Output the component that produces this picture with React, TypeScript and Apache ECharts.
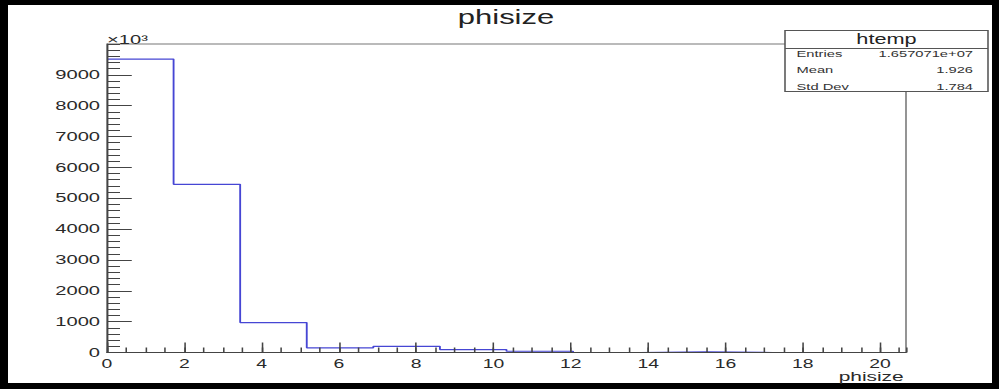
import React, { useEffect, useRef } from "react";
import * as echarts from "echarts";

// ---- data (ROOT histogram "htemp" of phisize) ----
const xMin = 0;
const xMax = 20.67;
const nBins = 12;
// bin contents in units of 10^3 entries
const binContentsK = [9510, 5450, 970, 150, 200, 95, 40, 0, 20, 0, 0, 0];
const xTickValues = [0, 2, 4, 6, 8, 10, 12, 14, 16, 18, 20];
const yMax = 10000;
const statsTitle = "htemp";
const statsLabels = ["Entries", "Mean", "Std Dev"];
const statsValues = ["1.657071e+07", "1.926", "1.784"];
const chartTitle = "phisize";
const xTitle = "phisize";
const yExponent = "×10³";

// the reference picture is horizontally stretched; draw at narrow width and stretch
const FULL_W = 999;
const FULL_H = 389;
const INNER_W = 645;
const S = FULL_W / INNER_W;
const FONT = "Liberation Sans, Arial, Helvetica, sans-serif";

export default function App() {
  const ref = useRef<HTMLDivElement>(null);
  useEffect(() => {
    if (!ref.current) return;
    const chart = echarts.init(ref.current, undefined, { renderer: "svg" });
    const bw = (xMax - xMin) / nBins;
    const pts: number[][] = binContentsK.map((v, i) => [xMin + i * bw, v]);
    pts.push([xMax, binContentsK[nBins - 1]]);

    const axisColor = "#444";
    const labelColor = "#2a2a2a";
    const bx = 785 / S;
    const bw2 = 988 / S - bx;
    const by = 30.5;
    const bh = 61;
    // small stats texts: draw at double size and scale down by half
    const SMALL = 19;
    const k = 0.5;

    chart.setOption({
      animation: false,
      backgroundColor: "#000",
      title: {
        text: chartTitle,
        left: 506 / S,
        top: 7,
        textAlign: "center",
        padding: 0,
        textStyle: { fontFamily: FONT, fontSize: 20, fontWeight: "normal", color: "#222" },
      },
      grid: {
        left: 107 / S,
        right: INNER_W - 906 / S,
        top: 44,
        bottom: FULL_H - 352.5,
        show: true,
        borderColor: "#777",
        borderWidth: 1,
        backgroundColor: "transparent",
      },
      xAxis: [
        {
          type: "value",
          min: xMin,
          max: xMax,
          interval: 2,
          position: "bottom",
          z: 5,
          axisLine: { show: true, onZero: false, lineStyle: { color: axisColor, width: 1 } },
          axisTick: { show: true, inside: true, length: 10, lineStyle: { color: axisColor } },
          axisLabel: {
            margin: 4,
            fontSize: 12.5,
            color: labelColor,
            fontFamily: FONT,
            showMaxLabel: false,
            formatter: (v: number) => (xTickValues.includes(v) ? String(v) : ""),
          },
          splitLine: { show: false },
          name: xTitle,
          nameLocation: "end",
          nameGap: -1.5,
          nameMoveOverlap: false,
          nameTextStyle: {
            fontFamily: FONT,
            fontSize: 13.5,
            color: labelColor,
            align: "right",
            verticalAlign: "top",
            padding: [16.5, 0, 0, 0],
          },
        },
        {
          type: "value",
          min: xMin,
          max: xMax,
          interval: 0.5,
          position: "bottom",
          z: 5,
          axisLine: { show: false, onZero: false },
          axisTick: { show: true, inside: true, length: 5, lineStyle: { color: axisColor } },
          axisLabel: { show: false },
          splitLine: { show: false },
        },
      ],
      yAxis: [
        {
          type: "value",
          min: 0,
          max: yMax,
          interval: 1000,
          position: "left",
          z: 5,
          axisLine: { show: true, onZero: false, lineStyle: { color: axisColor, width: 1 } },
          axisTick: { show: true, inside: true, length: 16, lineStyle: { color: axisColor } },
          axisLabel: {
            margin: 4.5,
            fontSize: 13,
            color: labelColor,
            fontFamily: FONT,
            showMaxLabel: false,
            formatter: (v: number) => String(v),
          },
          splitLine: { show: false },
          name: yExponent,
          nameLocation: "end",
          nameGap: -2.5,
          nameMoveOverlap: false,
          nameTextStyle: {
            fontFamily: FONT,
            fontSize: 13,
            color: labelColor,
            align: "left",
            verticalAlign: "bottom",
          },
        },
        {
          type: "value",
          min: 0,
          max: yMax,
          interval: 200,
          position: "left",
          z: 5,
          axisLine: { show: false, onZero: false },
          axisTick: { show: true, inside: true, length: 8.4, lineStyle: { color: axisColor } },
          axisLabel: { show: false },
          splitLine: { show: false },
        },
      ],
      series: [
        {
          type: "line",
          step: "end",
          data: pts,
          xAxisIndex: 0,
          yAxisIndex: 0,
          symbol: "none",
          silent: true,
          lineStyle: { color: "#4646d4", width: 1.2 },
        },
      ],
      graphic: [
        {
          type: "rect",
          z: -10,
          shape: { x: 8 / S, y: 5, width: (992 - 8) / S, height: 378 },
          style: { fill: "#fff" },
          silent: true,
        },
        {
          type: "group",
          z: 20,
          children: [
            {
              type: "rect",
              shape: { x: bx, y: by, width: bw2, height: bh },
              style: { fill: "#fff", stroke: "#555", lineWidth: 1 },
            },
            {
              type: "line",
              shape: { x1: bx, y1: 48.5, x2: bx + bw2, y2: 48.5 },
              style: { stroke: "#555", lineWidth: 1 },
            },
            {
              type: "text",
              x: bx + bw2 / 2,
              y: 39.5,
              style: {
                text: statsTitle,
                fill: "#222",
                fontSize: 14,
                fontFamily: FONT,
                align: "center",
                verticalAlign: "middle",
              },
            },
            ...statsLabels.map((t, i) => ({
              type: "text",
              x: 796.5 / S,
              y: 54 + i * 16.3,
              scaleX: k,
              scaleY: k,
              style: {
                text: t,
                fill: "#333",
                fontSize: SMALL,
                fontFamily: FONT,
                align: "left",
                verticalAlign: "middle",
              },
            })),
            ...statsValues.map((t, i) => ({
              type: "text",
              x: 973 / S,
              y: 54 + i * 16.3,
              scaleX: k,
              scaleY: k,
              style: {
                text: t,
                fill: "#333",
                fontSize: SMALL,
                fontFamily: FONT,
                align: "right",
                verticalAlign: "middle",
              },
            })),
          ],
        },
      ],
    });
    return () => chart.dispose();
  }, []);

  return (
    <div
      style={{
        position: "fixed",
        left: 0,
        top: 0,
        width: FULL_W,
        height: FULL_H,
        overflow: "hidden",
        background: "#000",
      }}
    >
      <div
        ref={ref}
        style={{
          width: INNER_W,
          height: FULL_H,
          transform: `scaleX(${S})`,
          transformOrigin: "0 0",
        }}
      />
    </div>
  );
}
